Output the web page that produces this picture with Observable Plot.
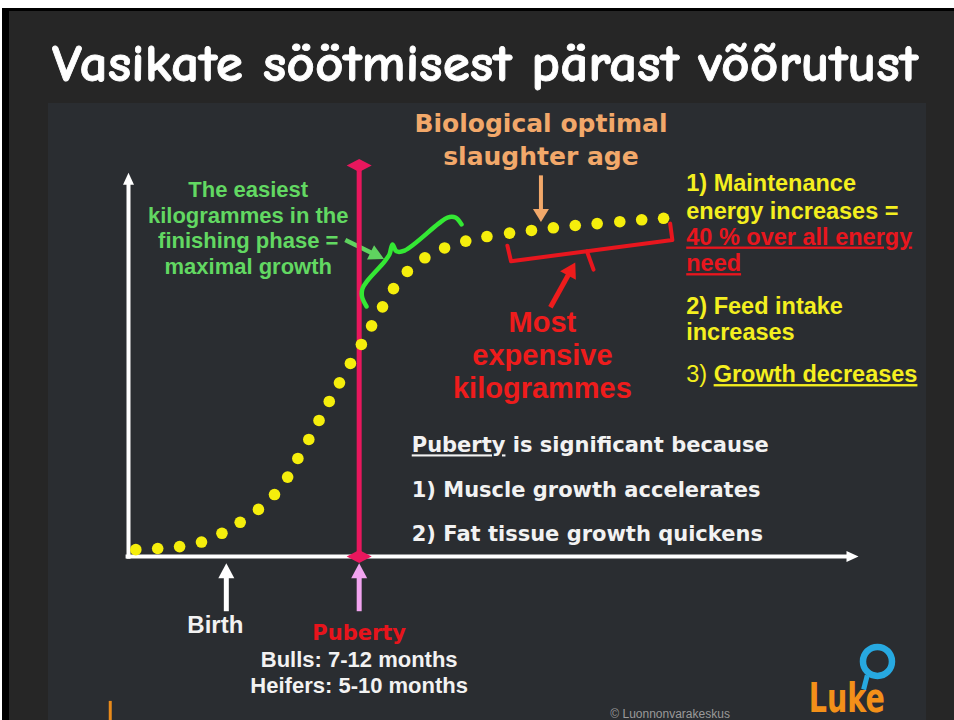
<!DOCTYPE html>
<html>
<head>
<meta charset="utf-8">
<script src="https://cdn.jsdelivr.net/npm/d3@7"></script>
<script src="https://cdn.jsdelivr.net/npm/@observablehq/plot@0.6"></script>
<style>
html,body{margin:0;padding:0;background:#ffffff;width:954px;height:720px;overflow:hidden;}
#slide{position:absolute;left:2px;top:8px;width:952px;height:712px;background:#262626;border-left:7px solid #000;border-top:3px solid #000;box-sizing:border-box;}
#panel{position:absolute;left:48px;top:103px;width:878px;height:617px;background:#2a2d31;}
#title{position:absolute;left:0;top:0;}
#chart{position:absolute;left:0;top:0;}
</style>
</head>
<body>
<div id="slide"></div>
<div id="panel"></div>
<svg id="title" width="954" height="100">
  <text x="52" y="81" textLength="866" lengthAdjust="spacingAndGlyphs"
        font-family="'Comic Sans MS', 'Comic Neue', Lato, sans-serif" font-weight="900"
        font-size="52" fill="#ffffff" stroke="#ffffff" stroke-width="0.8">Vasikate söötmisest pärast võõrutust</text>
</svg>
<div id="chart"></div>
<script>
// ---------- data (relative age vs relative live weight) ----------
const growthAge    = [1.0, 4.0, 7.0, 10.0, 12.8, 15.3, 17.8, 20.0, 21.8, 23.2, 24.7, 26.1, 27.5, 28.9, 30.4, 31.9,
                      33.3, 34.8, 36.3, 38.2, 40.6, 43.3, 46.2, 49.1, 52.2, 55.2, 58.2, 61.2, 64.2, 67.3, 70.3, 73.3];
const growthWeight = [1.8, 2.1, 2.6, 3.8, 6.1, 9.0, 12.4, 16.3, 20.9, 25.8, 30.8, 35.8, 40.8, 45.7, 50.8, 55.8,
                      60.7, 65.7, 70.5, 75.0, 78.6, 81.2, 83.0, 84.2, 85.1, 85.8, 86.5, 87.1, 87.6, 88.1, 88.6, 89.0];
const pubertyAge = 31.6;
const pubertyTop = 102.9;

// ---------- annotations (in data units) ----------
const arrows = [
  {x1: 0,    y1: -0.6,  x2: 0,    y2: 101,  color: "#ffffff", w: 4,   L: 12, W: 5.5},
  {x1: -0.4, y1: 0,     x2: 100,  y2: 0,    color: "#ffffff", w: 4,   L: 12, W: 5.5},
  {x1: 13.4, y1: -14.4, x2: 13.4, y2: -1.8, color: "#ffffff", w: 5,   L: 15, W: 8},
  {x1: 31.6, y1: -14.4, x2: 31.6, y2: -1.8, color: "#f2a4f0", w: 5,   L: 15, W: 8},
  {x1: 56.5, y1: 100.3, x2: 56.5, y2: 88.0, color: "#f2a86a", w: 4,   L: 13, W: 8},
  {x1: 29.7, y1: 83.3,  x2: 35.0, y2: 78.3, color: "#5fd35f", w: 4.5, L: 15, W: 8},
  {x1: 57.8, y1: 65.6,  x2: 61.2, y2: 77.4, color: "#ee1c1c", w: 5,   L: 15, W: 9}
];
const brace = [
  {x: 32.60, y: 65.8}, {x: 31.99, y: 68.4}, {x: 32.05, y: 70.5}, {x: 32.74, y: 72.6},
  {x: 35.07, y: 77.6}, {x: 35.75, y: 79.5}, {x: 36.16, y: 82.1},
  {x: 36.71, y: 80.3}, {x: 37.81, y: 80.5}, {x: 42.47, y: 87.6}, {x: 43.70, y: 89.2},
  {x: 44.79, y: 89.2}, {x: 45.62, y: 87.4}
];
const bracket = [
  {part: "a", x: 51.9, y: 81.8}, {part: "a", x: 52.4, y: 77.7},
  {part: "a", x: 74.5, y: 83.3}, {part: "a", x: 74.2, y: 87.6},
  {part: "b", x: 62.8, y: 80.3}, {part: "b", x: 63.7, y: 75.5}
];
const labels = [
  {text: "The easiest\nkilogrammes in the\nfinishing phase =\nmaximal growth", x: 16.4, y: 74.4, anchor: "middle", style: "green"},
  {text: "Biological optimal\nslaughter age", x: 56.5, y: 103.1, anchor: "middle", style: "orange"},
  {text: "Most\nexpensive\nkilogrammes", x: 56.7, y: 41.6, anchor: "middle", style: "red"},
  {text: "1) Maintenance", x: 76.4, y: 96.1, anchor: "start", style: "yellow"},
  {text: "energy increases =", x: 76.4, y: 88.9, anchor: "start", style: "yellow"},
  {text: "40 % over all energy", x: 76.4, y: 82.1, anchor: "start", style: "redNote"},
  {text: "need", x: 76.4, y: 75.1, anchor: "start", style: "redNote"},
  {text: "2) Feed intake", x: 76.4, y: 63.9, anchor: "start", style: "yellow"},
  {text: "increases", x: 76.4, y: 57.0, anchor: "start", style: "yellow"},
  {text: "3) Growth decreases", x: 76.4, y: 45.9, anchor: "start", style: "yellow"},
  {text: "Puberty is significant because", x: 38.8, y: 27.4, anchor: "start", style: "white"},
  {text: "1) Muscle growth accelerates", x: 38.8, y: 15.6, anchor: "start", style: "white"},
  {text: "2) Fat tissue growth quickens", x: 38.8, y: 4.2, anchor: "start", style: "white"},
  {text: "Birth", x: 11.9, y: -20.2, anchor: "middle", style: "birth"},
  {text: "Puberty", x: 31.6, y: -22.1, anchor: "middle", style: "pubertyLabel"},
  {text: "Bulls: 7-12 months", x: 31.6, y: -29.1, anchor: "middle", style: "months"},
  {text: "Heifers: 5-10 months", x: 31.6, y: -36.0, anchor: "middle", style: "months"},
  {text: "© Luonnonvarakeskus", x: 66.0, y: -42.4, anchor: "start", style: "copyright"},
  {text: "Luke", x: 93.2, y: -40.8, anchor: "start", style: "logo"}
];
const decorated = [
  {text: "40 % over all energy", parts: [{t: "40 % over all energy", u: true}]},
  {text: "need", parts: [{t: "need", u: true}]},
  {text: "Puberty is significant because", parts: [{t: "Puberty", u: true}, {t: " is significant because"}]},
  {text: "3) Growth decreases", parts: [{t: "3) ", w: "normal"}, {t: "Growth decreases", u: true}]}
];
const fittedText = [{text: "Luke", length: 76}];
const logoBubble = [{x: 102.6, y: -27.6}];
const logoTail = [{x1: 101.2, y1: -31.3, x2: 100.7, y2: -35.0}];
const sideBar = [{x1: -2.5, y1: -38.0, x2: -2.5, y2: -44.0}];

// ---------- styles ----------
const ARIAL = "'Liberation Sans', Arial, sans-serif";
const DEJAVU = "'DejaVu Sans', Verdana, sans-serif";
const styles = {
  green:        {fill: "#62d862", fontFamily: ARIAL,  fontSize: 22,   fontWeight: "bold", lineHeight: 1.16},
  orange:       {fill: "#f2a86a", fontFamily: DEJAVU, fontSize: 25,   fontWeight: "bold", lineHeight: 1.3},
  red:          {fill: "#ee1c1c", fontFamily: ARIAL,  fontSize: 29,   fontWeight: "bold", lineHeight: 1.14},
  yellow:       {fill: "#f4ef1f", fontFamily: ARIAL,  fontSize: 23.5, fontWeight: "bold", lineHeight: 1},
  redNote:      {fill: "#e8161e", fontFamily: ARIAL,  fontSize: 23.5, fontWeight: "bold", lineHeight: 1},
  white:        {fill: "#f2f2f2", fontFamily: DEJAVU, fontSize: 21,   fontWeight: "bold", lineHeight: 1},
  birth:        {fill: "#f2f2f2", fontFamily: ARIAL,  fontSize: 24,   fontWeight: "bold", lineHeight: 1},
  pubertyLabel: {fill: "#e8141c", fontFamily: DEJAVU, fontSize: 21,   fontWeight: "bold", lineHeight: 1},
  months:       {fill: "#f2f2f2", fontFamily: ARIAL,  fontSize: 22,   fontWeight: "bold", lineHeight: 1},
  copyright:    {fill: "#9a9a9a", fontFamily: ARIAL,  fontSize: 12,   fontWeight: "normal", lineHeight: 1},
  logo:         {fill: "#f39019", fontFamily: "'Liberation Sans Narrow', 'DejaVu Sans Condensed', sans-serif", fontSize: 40, fontWeight: "bold", lineHeight: 1}
};

// ---------- layout ----------
const W = 954, H = 720;
const X0 = 128, X1 = 858, Y0 = 556, Y1 = 176;
const KX = (X1 - X0) / 100, KY = (Y0 - Y1) / 100;

function headSymbol(angle, L, Wd) {
  const c = Math.cos(angle), s = Math.sin(angle);
  return {draw(ctx) {
    const bx = -L * c, by = -L * s;
    ctx.moveTo(0, 0);
    ctx.lineTo(bx - Wd * s, by + Wd * c);
    ctx.lineTo(bx + Wd * s, by - Wd * c);
    ctx.closePath();
  }};
}
const diamondSymbol = {draw(ctx) {
  ctx.moveTo(-12.5, 0); ctx.lineTo(0, -6.5); ctx.lineTo(12.5, 0); ctx.lineTo(0, 6.5); ctx.closePath();
}};

const arrowMarks = [];
for (const a of arrows) {
  const dxp = (a.x2 - a.x1) * KX, dyp = -(a.y2 - a.y1) * KY;
  const ang = Math.atan2(dyp, dxp);
  const len = Math.hypot(dxp, dyp);
  const back = Math.min(a.L * 0.6, len);
  const sx = a.x2 - (back * Math.cos(ang)) / KX;
  const sy = a.y2 + (back * Math.sin(ang)) / KY;
  arrowMarks.push(Plot.link([a], {x1: "x1", y1: "y1", x2: () => sx, y2: () => sy, stroke: a.color, strokeWidth: a.w}));
  arrowMarks.push(Plot.dot([a], {x: "x2", y: "y2", symbol: headSymbol(ang, a.L, a.W), fill: a.color, stroke: "none"}));
}

const textMarks = [];
for (const [name, st] of Object.entries(styles)) {
  for (const anchor of ["start", "middle"]) {
    const rows = labels.filter(d => d.style === name && d.anchor === anchor);
    if (!rows.length) continue;
    textMarks.push(Plot.text(rows, {
      x: "x", y: "y", text: "text", textAnchor: anchor,
      lineAnchor: "bottom", lineHeight: st.lineHeight,
      fill: st.fill, fontFamily: st.fontFamily, fontSize: st.fontSize, fontWeight: st.fontWeight
    }));
  }
}

const growth = growthAge.map((x, i) => ({x, y: growthWeight[i]}));

const chart = Plot.plot({
  width: W, height: H,
  marginLeft: X0, marginRight: W - X1, marginTop: Y1, marginBottom: H - Y0,
  x: {domain: [0, 100], axis: null},
  y: {domain: [0, 100], axis: null},
  style: {background: "none", overflow: "visible"},
  marks: [
    Plot.link(sideBar, {x1: "x1", y1: "y1", x2: "x2", y2: "y2", stroke: "#e88a1a", strokeWidth: 3}),
    ...arrowMarks,
    Plot.ruleX([pubertyAge], {y1: 0, y2: pubertyTop, stroke: "#e8175d", strokeWidth: 5}),
    Plot.dot([{x: pubertyAge, y: pubertyTop}, {x: pubertyAge, y: 0}], {x: "x", y: "y", symbol: diamondSymbol, fill: "#e8175d", stroke: "none"}),
    Plot.dot(growth, {x: "x", y: "y", r: 5.8, fill: "#f5ee0c", stroke: "none"}),
    Plot.line(brace, {x: "x", y: "y", curve: "catmull-rom", stroke: "#34e834", strokeWidth: 4.5, strokeLinecap: "round", strokeLinejoin: "round"}),
    Plot.line(bracket, {x: "x", y: "y", z: "part", stroke: "#e8161e", strokeWidth: 4, strokeLinejoin: "round"}),
    Plot.dot(logoBubble, {x: "x", y: "y", r: 14.5, stroke: "#27a9e1", strokeWidth: 6.5, fill: "none"}),
    Plot.link(logoTail, {x1: "x1", y1: "y1", x2: "x2", y2: "y2", stroke: "#27a9e1", strokeWidth: 5}),
    ...textMarks
  ]
});

// underline / mixed weight decorations, fitted widths
const SVGNS = "http://www.w3.org/2000/svg";
for (const t of chart.querySelectorAll("text")) {
  const content = t.textContent;
  const fit = fittedText.find(f => f.text === content);
  if (fit) {
    t.setAttribute("textLength", fit.length);
    t.setAttribute("lengthAdjust", "spacingAndGlyphs");
  }
  const rule = decorated.find(r => r.text === content);
  if (!rule) continue;
  t.textContent = "";
  for (const p of rule.parts) {
    const ts = document.createElementNS(SVGNS, "tspan");
    ts.textContent = p.t;
    if (p.u) ts.setAttribute("text-decoration", "underline");
    if (p.w) ts.setAttribute("font-weight", p.w);
    t.appendChild(ts);
  }
}
document.getElementById("chart").appendChild(chart);
</script>
</body>
</html>
